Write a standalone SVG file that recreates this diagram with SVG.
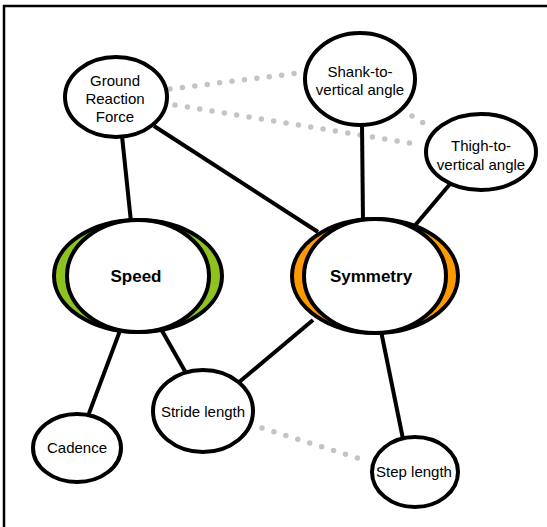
<svg xmlns="http://www.w3.org/2000/svg" width="547" height="527" viewBox="0 0 547 527">
<style>
.n{fill:#fff;stroke:#000;stroke-width:4}
.e{stroke:#000;stroke-width:4;fill:none}
.d{stroke:#c4c4c4;stroke-width:5.5;stroke-linecap:round;stroke-dasharray:0 12.5;fill:none}
.t{font-family:"Liberation Sans",Arial,sans-serif;font-size:15px;text-anchor:middle;fill:#000}
.b{font-family:"Liberation Sans",Arial,sans-serif;font-size:17px;font-weight:bold;text-anchor:middle;fill:#000}
</style>
<rect width="547" height="527" fill="#fff"/>
<path d="M4,527 V6 H547" fill="none" stroke="#000" stroke-width="2.5"/>
<g id="connectors">
<line class="d" x1="170" y1="89" x2="299" y2="73"/>
<line class="d" x1="175" y1="105" x2="416" y2="144"/>
<line class="d" x1="412" y1="116" x2="433" y2="129"/>
<line class="d" x1="262" y1="428" x2="361" y2="459"/>
<line class="e" x1="122" y1="136" x2="131" y2="222"/>
<line class="e" x1="154" y1="126" x2="318" y2="232"/>
<line class="e" x1="362" y1="124" x2="363" y2="222"/>
<line class="e" x1="450" y1="184" x2="412" y2="229"/>
<line class="e" x1="121" y1="328" x2="88" y2="416"/>
<line class="e" x1="161" y1="329" x2="186" y2="373"/>
<line class="e" x1="313" y1="320" x2="238" y2="383"/>
<line class="e" x1="381" y1="331" x2="403" y2="439"/>
</g>
<g id="grf">
<ellipse class="n" cx="116" cy="97" rx="51" ry="40"/>
<text class="t" x="115" y="86">Ground</text>
<text class="t" x="115" y="104">Reaction</text>
<text class="t" x="115" y="122">Force</text>
</g>
<g id="shank">
<ellipse class="n" cx="360" cy="79" rx="55" ry="46"/>
<text class="t" x="360" y="77">Shank-to-</text>
<text class="t" x="360" y="95">vertical angle</text>
</g>
<g id="thigh">
<ellipse class="n" cx="481" cy="152" rx="55" ry="38"/>
<text class="t" x="481" y="151">Thigh-to-</text>
<text class="t" x="481" y="170">vertical angle</text>
</g>
<g id="speed">
<ellipse cx="138" cy="276" rx="84" ry="56" fill="#8dc21f" stroke="#000" stroke-width="4"/>
<ellipse class="n" cx="138" cy="276" rx="71" ry="56"/>
<text class="b" x="136" y="282">Speed</text>
</g>
<g id="symmetry">
<ellipse cx="375" cy="276" rx="83" ry="57" fill="#ff9900" stroke="#000" stroke-width="4"/>
<ellipse class="n" cx="375" cy="276" rx="71" ry="57"/>
<text class="b" x="371" y="282">Symmetry</text>
</g>
<g id="stride">
<ellipse class="n" cx="203" cy="411" rx="50" ry="41"/>
<text class="t" x="203" y="417">Stride length</text>
</g>
<g id="step">
<ellipse class="n" cx="415" cy="472" rx="43" ry="35"/>
<text class="t" x="414" y="477">Step length</text>
</g>
<g id="cadence">
<ellipse class="n" cx="77" cy="448" rx="44" ry="34"/>
<text class="t" x="77" y="453">Cadence</text>
</g>
</svg>
